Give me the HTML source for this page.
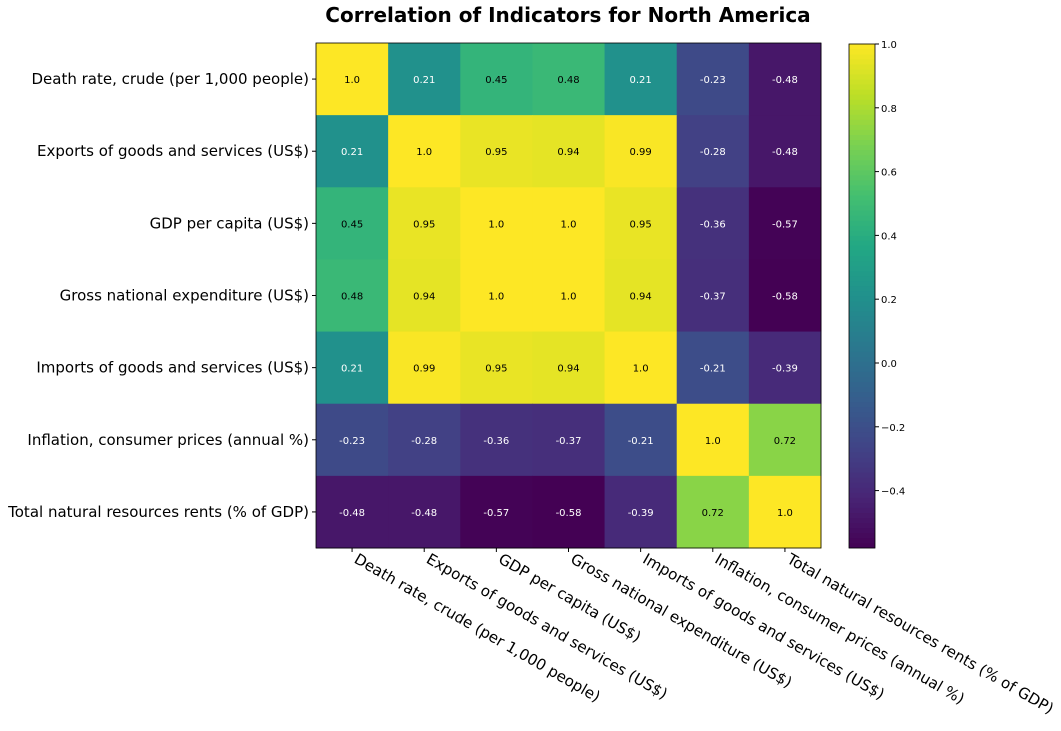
<!DOCTYPE html>
<html><head><meta charset="utf-8"><style>
body{margin:0;background:#fff;width:1061px;height:726px;overflow:hidden}
text{font-family:"DejaVu Sans","Liberation Sans",sans-serif}
</style></head><body>
<svg id="chart" width="1061" height="726" xmlns="http://www.w3.org/2000/svg">
<text x="568" y="22" text-anchor="middle" font-size="20" font-weight="bold">Correlation of Indicators for North America</text>
<g id="cells"></g><g id="ylabels"></g><g id="xlabels"></g><g id="cbar"></g>
</svg>
<script>
const categories=["Death rate, crude (per 1,000 people)","Exports of goods and services (US$)","GDP per capita (US$)","Gross national expenditure (US$)","Imports of goods and services (US$)","Inflation, consumer prices (annual %)","Total natural resources rents (% of GDP)"];
const row0=[1.0,0.21,0.45,0.48,0.21,-0.23,-0.48];
const row1=[0.21,1.0,0.95,0.94,0.99,-0.28,-0.48];
const row2=[0.45,0.95,1.0,1.0,0.95,-0.36,-0.57];
const row3=[0.48,0.94,1.0,1.0,0.94,-0.37,-0.58];
const row4=[0.21,0.99,0.95,0.94,1.0,-0.21,-0.39];
const row5=[-0.23,-0.28,-0.36,-0.37,-0.21,1.0,0.72];
const row6=[-0.48,-0.48,-0.57,-0.58,-0.39,0.72,1.0];
const cbTicks=[1.0,0.8,0.6,0.4,0.2,0.0,-0.2,-0.4];
const rows=[row0,row1,row2,row3,row4,row5,row6];
const vmin=Math.min(...rows.flat()),vmax=Math.max(...rows.flat());
const NS="http://www.w3.org/2000/svg";
const X0=316,Y0=43,W=505,H=505,n=categories.length,cw=W/n,ch=H/n;
const vir=[[68,1,84],[72,36,117],[65,68,135],[53,95,141],[42,120,142],[33,145,140],[34,168,132],[68,191,112],[122,209,81],[189,223,38],[253,231,37]];
function cmap(t){t=Math.max(0,Math.min(1,t));const p=t*10,i=Math.min(9,Math.floor(p)),f=p-i;const a=vir[i],b=vir[i+1];return `rgb(${a.map((v,k)=>Math.round(v+(b[k]-v)*f)).join(',')})`;}
const norm=v=>(v-vmin)/(vmax-vmin);
function mk(tag,attrs,parent){const e=document.createElementNS(NS,tag);for(const k in attrs)e.setAttribute(k,attrs[k]);parent.appendChild(e);return e;}
const cells=document.getElementById('cells');
rows.forEach((r,i)=>r.forEach((v,j)=>{
 const rc=mk('rect',{x:X0+j*cw,y:Y0+i*ch,width:cw+0.5,height:ch+0.5,fill:cmap(norm(v))},cells);
 
 
 const t=mk('text',{x:X0+(j+0.5)*cw,y:Y0+(i+0.5)*ch+4,'text-anchor':'middle','font-size':10,fill:norm(v)<0.5?'#fff':'#000'},cells);
 
 
 t.textContent=(Math.abs(v)===1?v.toFixed(1):String(v));
}));
mk('rect',{x:X0,y:Y0,width:W,height:H,fill:'none',stroke:'#000','stroke-width':0.8},cells);
const yl=document.getElementById('ylabels'),xl=document.getElementById('xlabels');
categories.forEach((c,i)=>{
 const cy=Y0+(i+0.5)*ch;
 mk('line',{x1:X0-4,x2:X0,y1:cy,y2:cy,stroke:'#000'},yl);
 const t=mk('text',{x:X0-7,y:cy+5,'text-anchor':'end','font-size':15},yl);
 
 
 t.textContent=c;
 const cx=X0+(i+0.5)*cw;
 mk('line',{x1:cx,x2:cx,y1:Y0+H,y2:Y0+H+4,stroke:'#000'},xl);
 const u=mk('text',{x:0,y:0,'font-size':15.2,transform:`translate(${cx+1},${Y0+H+14}) rotate(30)`},xl);
 
 
 u.textContent=c;
});
const cb=document.getElementById('cbar');
const CX=849,CW=26,CT=44,CB=548;
const cy=v=>CB-(v-vmin)/(vmax-vmin)*(CB-CT);
for(let k=0;k<100;k++){const v0=vmin+(vmax-vmin)*k/100;
 mk('rect',{x:CX,y:cy(v0+(vmax-vmin)/100)-0.3,width:CW,height:(CB-CT)/100+0.6,fill:cmap(k/100+0.005)},cb);}
const cbf=mk('rect',{x:CX,y:CT,width:CW,height:CB-CT,fill:'none',stroke:'#000','stroke-width':0.8},cb);


cbTicks.forEach(v=>{const y=cy(v);
 mk('line',{x1:CX+CW,x2:CX+CW+4,y1:y,y2:y,stroke:'#000'},cb);
 const t=mk('text',{x:CX+CW+6,y:y+4,'font-size':10},cb);
 
 
 t.textContent=(v<0?'\u2212':'')+Math.abs(v).toFixed(1);
});
</script>
</body></html>
